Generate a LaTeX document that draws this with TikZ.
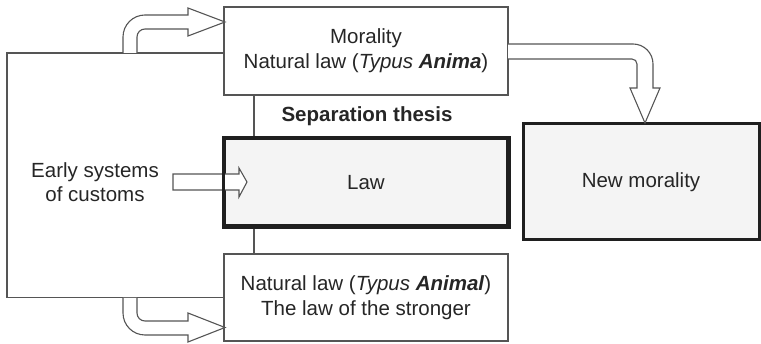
\documentclass[tikz,border=0pt]{standalone}
\usepackage{fontspec}
\setmainfont{Liberation Sans}
\definecolor{LineGray}{HTML}{555555}
\definecolor{TextGray}{HTML}{262626}
\definecolor{BoxFill}{HTML}{F4F4F4}
\usetikzlibrary{positioning, calc}
\tikzset{
	plainbox/.style={draw=LineGray, line width=1.1pt, fill=white, minimum width=284pt, minimum height=88pt, align=center, text=TextGray},
	heavybox/.style={draw=black!88, line width=3pt, fill=BoxFill, align=center, text=TextGray},
	thinline/.style={draw=LineGray, line width=1.1pt},
	hollow/.style={draw=LineGray, fill=white, line width=1.1pt, line join=miter},
}
\begin{document}
\begin{tikzpicture}[x=1pt, y=-1pt, font=\fontsize{20.5}{25}\selectfont]
	\useasboundingbox (0,0) rectangle (761,344);
	% boxes
	\node[plainbox] (moral) at (366,51) {Morality\\Natural law (\textit{Typus \textbf{Anima}})};
	\node[heavybox, minimum width=283pt, minimum height=87pt] (law) at (366,182.5) {Law};
	\node[heavybox, minimum width=236pt, minimum height=116pt] (newmoral) at (641,182) {New morality};
	\node[plainbox, minimum height=87pt] (animal) at (366,297.5) {Natural law (\textit{Typus \textbf{Animal}})\\The law of the stronger};
	\node[font=\fontsize{20.5}{25}\selectfont\bfseries, text=TextGray] (sep) at (367,116) {Separation thesis};
	\node[align=center, text=TextGray, font=\fontsize{20.5}{24}\selectfont] (early) at (95,182) {Early systems\\of customs};

	% frame and links
	\coordinate (fl) at (7,53);
	\draw[thinline] (moral.west |- fl) -- (fl) |- (animal.west);
	\draw[thinline] ([xshift=-112pt]moral.south) -- ([xshift=-112pt]law.north);
	\draw[thinline] ([xshift=-112pt]law.south) -- ([xshift=-112pt]animal.north);

	% hollow arrows
	\draw[hollow] (123,53) -- (123,37) arc[start angle=180, end angle=90, radius=22pt] -- (188,15) -- (188,8) -- (225,22) -- (188,36) -- (188,29) -- (145,29) arc[start angle=90, end angle=180, radius=8pt] -- (137,53);
	\draw[hollow] (123,298) -- (123,313) arc[start angle=180, end angle=270, radius=22pt] -- (188,335) -- (188,342) -- (225,327.5) -- (188,313) -- (188,321) -- (145,321) arc[start angle=270, end angle=180, radius=8pt] -- (137,298);
	\draw[hollow] (508,44) -- (633,44) arc[start angle=90, end angle=0, radius=20pt] -- (653,88) -- (660,88) -- (645,123) -- (630,88) -- (637,88) -- (637,64) arc[start angle=0, end angle=90, radius=5pt] -- (508,59);
	\draw[hollow] (173,174) -- (239,174) -- (239,168) -- (247,182) -- (239,197) -- (239,190) -- (173,190) -- cycle;
	\draw[draw=black!88, line width=3pt] (law.south west) rectangle (law.north east);
\end{tikzpicture}
\end{document}
